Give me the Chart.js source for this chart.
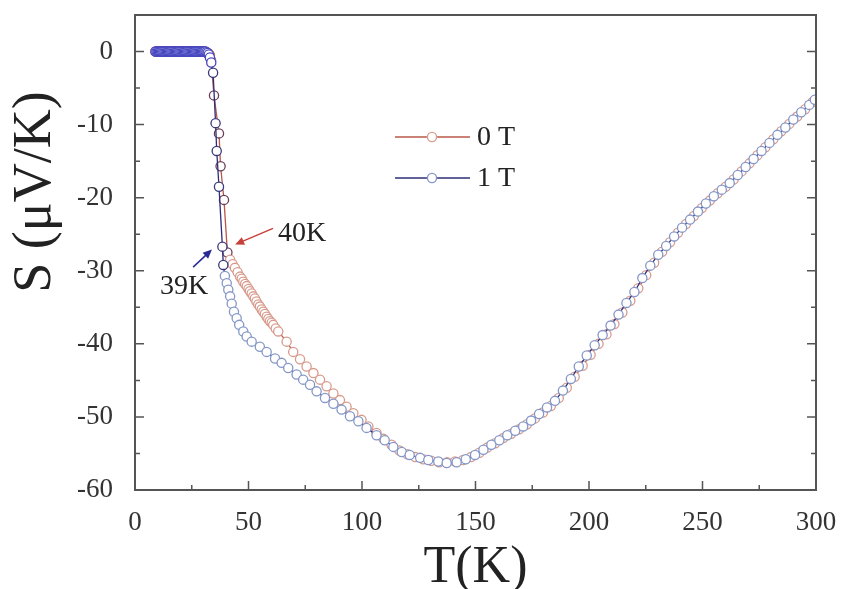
<!DOCTYPE html>
<html>
<head>
<meta charset="utf-8">
<script src="https://cdn.jsdelivr.net/npm/chart.js@4.4.1/dist/chart.umd.min.js"></script>
<style>
  body { margin: 0; background: #fff; }
  #chart { display: block; }
</style>
</head>
<body>
<canvas id="chart" width="842" height="589"></canvas>
<script>
// tick values
const xTicks = [0, 50, 100, 150, 200, 250, 300];
const yTicks = [0, -10, -20, -30, -40, -50, -60];

// 0 T  (T in K, S in uV/K)
const t0T = [9, 9.5, 10, 10.5, 11, 11.5, 12, 12.5, 13, 13.5, 14, 14.5, 15, 15.5, 16, 16.5, 17, 17.5, 18, 18.5,
  19, 19.5, 20, 20.5, 21, 21.5, 22, 22.5, 23, 23.5, 24, 24.5, 25, 25.5, 26, 26.5, 27, 27.5, 28, 28.5,
  29, 29.5, 30, 30.5, 31, 31.5, 32, 32.5, 33, 33.5,
  34.8, 37, 37.7, 39.2, 40.7,
  41.9, 43, 44, 45.2, 46.3, 47, 47.7, 48.5, 49.2, 50, 50.6, 51.4, 52.1, 52.8, 53.5, 54.3, 55, 55.8, 56.5,
  57.2, 58, 58.7, 59.4, 60.2, 60.9, 62, 63.1,
  66.8, 69.7, 72.7, 75.6, 78.6, 81.5, 84.4, 87.4, 90.3, 93.2, 96.2, 99.8, 102.8, 106.4,
  109.5, 113, 116.5, 120, 123.5, 127, 130.5, 134, 137.5, 141, 144.5, 148,
  151.7, 155.2, 158.7, 162.2, 165.7, 169.2, 172.7, 176.2, 179.7, 183.2, 186.7, 190.2, 193.7, 197.2,
  200.7, 204.2, 207.7, 211.2, 214.7, 218.2, 221.7, 225.2, 228.7, 232.2, 235.7, 239.2, 242.7, 246.2,
  249.7, 253.2, 256.7, 260.2, 263.7, 267.2, 270.7, 274.2, 277.7, 281.2, 284.7, 288.2, 291.7, 295.2, 298.5];
const s0T = [0, 0, 0, 0, 0, 0, 0, 0, 0, 0, 0, 0, 0, 0, 0, 0, 0, 0, 0, 0,
  0, 0, 0, 0, 0, 0, 0, 0, 0, 0, 0, 0, 0, 0, 0, 0, 0, 0, 0, 0,
  0, 0, 0, 0, 0, -0.1, -0.2, -0.3, -0.5, -1.2,
  -6, -11.2, -15.7, -20.3, -27.5,
  -28.5, -29.1, -29.6, -30.2, -30.8, -31.1, -31.5, -31.8, -32.1, -32.5, -32.8, -33.1, -33.5, -33.8, -34.2, -34.6, -34.9, -35.3, -35.6,
  -35.9, -36.3, -36.6, -36.9, -37.1, -37.4, -37.9, -38.3,
  -39.7, -41.1, -42.1, -43.1, -44, -44.9, -45.8, -46.8, -47.7, -48.6, -49.5, -50.4, -51.3, -52.2,
  -53, -53.8, -54.6, -55.1, -55.5, -55.8, -56, -56.2, -56.2, -56.1, -55.9, -55.5,
  -54.9, -54.2, -53.6, -52.9, -52.3, -51.7, -51, -50.2, -49.4, -48.5, -47.4, -46, -44.5, -43,
  -41.5, -40, -38.7, -37.3, -35.7, -34.1, -32.4, -30.6, -28.9, -27.4, -26.1, -24.8, -23.6, -22.5,
  -21.4, -20.4, -19.4, -18.5, -17.5, -16.4, -15.3, -14.2, -13.1, -12, -10.9, -9.9, -8.9, -7.9, -6.9];

// 1 T
const t1T = [9, 9.5, 10, 10.5, 11, 11.5, 12, 12.5, 13, 13.5, 14, 14.5, 15, 15.5, 16, 16.5, 17, 17.5, 18, 18.5,
  19, 19.5, 20, 20.5, 21, 21.5, 22, 22.5, 23, 23.5, 24, 24.5, 25, 25.5, 26, 26.5, 27, 27.5, 28, 28.5,
  29, 29.5, 30, 30.5, 31, 31.5, 32, 32.5, 33, 33.6,
  34.4, 35.5, 36, 37, 38.5,
  38.9, 39.6, 40.4, 41.1, 41.9, 42.6, 43.6, 44.8, 45.9, 47.7, 49.2, 51.4, 55, 58, 61.7, 64.6, 67.5,
  71.2, 74.1, 77.1, 80, 83.7, 87.4, 91, 94.7, 98.4, 102, 106.4, 110, 113.8, 117.5, 121, 125.6,
  129.2, 133.6, 137.3, 141.7, 145.7, 149.8,
  153.5, 157, 160.5, 164, 167.5, 171, 174.5, 178, 181.5, 185, 188.5, 192, 195.5, 199, 202.5,
  206, 209.5, 213, 216.5, 220, 223.5, 227, 230.5, 234, 237.5, 241, 244.5, 248, 251.5, 255,
  258.5, 262, 265.5, 269, 272.5, 276, 279.5, 283, 286.5, 290, 293.5, 297, 299.5];
const s1T = [0, 0, 0, 0, 0, 0, 0, 0, 0, 0, 0, 0, 0, 0, 0, 0, 0, 0, 0, 0,
  0, 0, 0, 0, 0, 0, 0, 0, 0, 0, 0, 0, 0, 0, 0, 0, 0, 0, 0, 0,
  0, 0, 0, 0, 0, -0.1, -0.2, -0.4, -0.8, -1.5,
  -2.9, -9.8, -13.6, -18.5, -26.7,
  -29.2, -30.7, -31.7, -32.6, -33.5, -34.5, -35.6, -36.5, -37.4, -38.3, -39, -39.7, -40.4, -41.1, -42, -42.6, -43.3,
  -44.2, -44.9, -45.6, -46.5, -47.4, -48.2, -49, -49.9, -50.6, -51.5, -52.5, -53.2, -54.1, -54.8, -55.2, -55.6,
  -55.9, -56.1, -56.3, -56.2, -55.8, -55.2,
  -54.5, -53.8, -53.2, -52.5, -51.9, -51.3, -50.5, -49.6, -48.7, -47.8, -46.4, -44.8, -43.1, -41.6, -40.2,
  -38.8, -37.5, -36, -34.4, -32.9, -31, -29.3, -27.8, -26.6, -25.3, -24.1, -23, -21.9, -20.8, -19.8,
  -18.9, -18, -16.9, -15.8, -14.7, -13.6, -12.5, -11.4, -10.4, -9.3, -8.3, -7.3, -6.6];

const seriesLabels = ['0 T', '1 T'];

// arrow notes: text and where it sits, arrow tail and head, all in data units
const notes = [
  { text: '40K', at: [73.6, -24.9], from: [60.8, -24.2], to: [44.1, -26.4], color: '#c8403a' },
  { text: '39K', at: [21.6, -32.2], from: [25.6, -29.5], to: [33.9, -27.1], color: '#2a2a96' }
];

const serif = "'Liberation Serif', 'Times New Roman', serif";

function points(ts, ss) {
  return ts.map((t, i) => ({ x: t, y: ss[i] }));
}

const framePlugin = {
  id: 'frame',
  afterDraw(chart) {
    const { ctx, chartArea: a, scales: { x, y } } = chart;
    ctx.save();
    ctx.strokeStyle = '#555';
    ctx.lineWidth = 2;
    ctx.strokeRect(a.left, a.top, a.right - a.left, a.bottom - a.top);

    // inward ticks, minor ones halfway between majors
    ctx.lineWidth = 1.5;
    ctx.beginPath();
    for (let v = 0; v <= 300; v += 25) {
      const px = x.getPixelForValue(v);
      const len = v % 50 === 0 ? 9 : 5;
      ctx.moveTo(px, a.bottom);
      ctx.lineTo(px, a.bottom - len);
    }
    for (let v = -60; v <= 5; v += 5) {
      const py = y.getPixelForValue(v);
      const len = v % 10 === 0 ? 9 : 5;
      ctx.moveTo(a.left, py);
      ctx.lineTo(a.left + len, py);
      ctx.moveTo(a.right, py);
      ctx.lineTo(a.right - len, py);
    }
    ctx.stroke();

    // axis titles
    ctx.fillStyle = '#222';
    ctx.font = '52px ' + serif;
    ctx.textAlign = 'center';
    ctx.textBaseline = 'alphabetic';
    ctx.fillText('T(K)', (a.left + a.right) / 2, 582);
    ctx.save();
    ctx.translate(50, 192);
    ctx.rotate(-Math.PI / 2);
    ctx.font = '54px ' + serif;
    ctx.fillText('S (\u03BCV/K)', 0, 0);
    ctx.restore();

    // legend
    const lx = a.left + 260;
    chart.data.datasets.forEach((ds, i) => {
      const ly = 137 + i * 41;
      ctx.strokeStyle = ds.borderColor;
      ctx.lineWidth = 1.5;
      ctx.beginPath();
      ctx.moveTo(lx, ly);
      ctx.lineTo(lx + 75, ly);
      ctx.stroke();
      ctx.beginPath();
      ctx.arc(lx + 37, ly, 4.6, 0, Math.PI * 2);
      ctx.fillStyle = '#fff';
      ctx.fill();
      ctx.strokeStyle = ds.legendMarker;
      ctx.lineWidth = 1.4;
      ctx.stroke();
      ctx.fillStyle = '#222';
      ctx.font = '28px ' + serif;
      ctx.textAlign = 'left';
      ctx.textBaseline = 'middle';
      ctx.fillText(ds.label, lx + 82, ly + 1);
    });

    // 39K / 40K notes with arrows
    notes.forEach(n => {
      const x0 = x.getPixelForValue(n.from[0]), y0 = y.getPixelForValue(n.from[1]);
      const x1 = x.getPixelForValue(n.to[0]), y1 = y.getPixelForValue(n.to[1]);
      const ang = Math.atan2(y1 - y0, x1 - x0);
      ctx.strokeStyle = n.color;
      ctx.fillStyle = n.color;
      ctx.lineWidth = 1.5;
      ctx.beginPath();
      ctx.moveTo(x0, y0);
      ctx.lineTo(x1 - 6 * Math.cos(ang), y1 - 6 * Math.sin(ang));
      ctx.stroke();
      ctx.beginPath();
      ctx.moveTo(x1, y1);
      ctx.lineTo(x1 - 9 * Math.cos(ang) + 4 * Math.sin(ang), y1 - 9 * Math.sin(ang) - 4 * Math.cos(ang));
      ctx.lineTo(x1 - 9 * Math.cos(ang) - 4 * Math.sin(ang), y1 - 9 * Math.sin(ang) + 4 * Math.cos(ang));
      ctx.closePath();
      ctx.fill();
      ctx.fillStyle = '#222';
      ctx.font = '28px ' + serif;
      ctx.textAlign = 'center';
      ctx.textBaseline = 'middle';
      ctx.fillText(n.text, x.getPixelForValue(n.at[0]), y.getPixelForValue(n.at[1]));
    });
    ctx.restore();
  }
};

new Chart(document.getElementById('chart'), {
  type: 'scatter',
  data: {
    datasets: [
      {
        label: seriesLabels[0],
        data: points(t0T, s0T),
        showLine: true,
        borderColor: '#b8584a',
        borderWidth: 1.3,
        legendMarker: '#d9a090',
        pointRadius: 4.6,
        pointBorderWidth: 1.3,
        pointBackgroundColor: '#fff',
        pointBorderColor: c => c.raw && c.raw.x < 34 ? '#c06a60' : (c.raw && c.raw.x < 41 ? '#6a3c58' : '#d89a8c'),
        order: 1
      },
      {
        label: seriesLabels[1],
        data: points(t1T, s1T),
        showLine: true,
        borderColor: '#2e2e78',
        borderWidth: 1.3,
        legendMarker: '#8597c8',
        pointRadius: 4.6,
        pointBorderWidth: 1.3,
        pointBackgroundColor: '#fff',
        pointBorderColor: c => c.raw && c.raw.x < 34 ? '#4646c0' : (c.raw && c.raw.x < 39 ? '#3a3a7a' : '#8597c8'),
        order: 0
      }
    ]
  },
  options: {
    responsive: false,
    animation: false,
    devicePixelRatio: 1,
    layout: { padding: { top: 15, right: 26, left: 0, bottom: 0 } },
    plugins: { legend: { display: false }, tooltip: { enabled: false } },
    scales: {
      x: {
        type: 'linear',
        min: 0,
        max: 300,
        grid: { display: false },
        border: { display: false },
        afterBuildTicks: s => { s.ticks = xTicks.map(v => ({ value: v })); },
        afterFit: s => { s.height = 99; s.paddingLeft = 0; s.paddingRight = 0; },
        ticks: { color: '#333', padding: 9, maxRotation: 0, font: { family: serif, size: 27 } }
      },
      y: {
        type: 'linear',
        min: -60,
        max: 5,
        grid: { display: false },
        border: { display: false },
        afterBuildTicks: s => { s.ticks = yTicks.map(v => ({ value: v })); },
        afterFit: s => { s.width = 135; s.paddingTop = 0; s.paddingBottom = 0; },
        ticks: { color: '#333', padding: 14, font: { family: serif, size: 27 } }
      }
    }
  },
  plugins: [framePlugin]
});
</script>
</body>
</html>
